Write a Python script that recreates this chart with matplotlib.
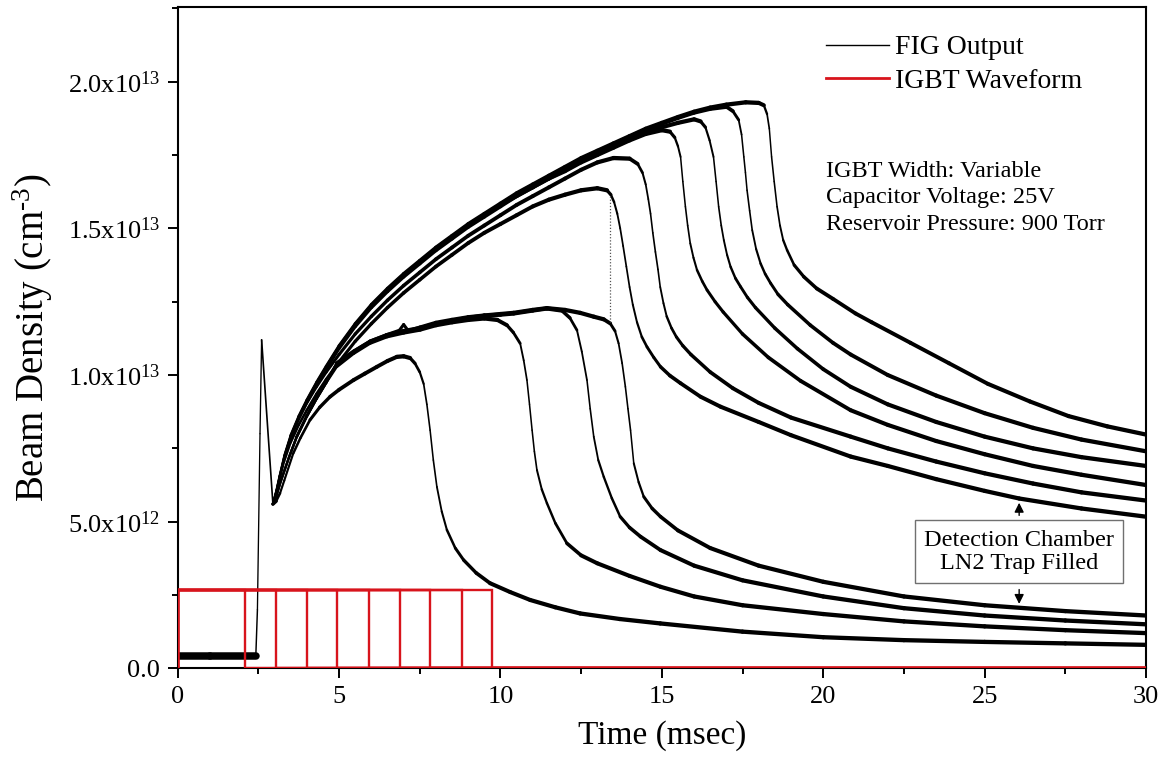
import numpy as np
import matplotlib
matplotlib.use("Agg")
import matplotlib.pyplot as plt
from matplotlib.collections import LineCollection
from matplotlib.lines import Line2D
from matplotlib.ticker import MultipleLocator, FuncFormatter

plt.rcParams["font.family"] = ["Liberation Serif", "DejaVu Serif"]
plt.rcParams["mathtext.fontset"] = "custom"
plt.rcParams["mathtext.rm"] = "Liberation Serif"
plt.rcParams["mathtext.it"] = "Liberation Serif:italic"
plt.rcParams["mathtext.default"] = "regular"

UNIT = 1e12  # densities below are in units of 1e12 cm^-3, times in msec

# ---- shared onset of every FIG trace (baseline, ignition spike, dip) ----
onset_t = [0.0, 1.0, 2.42, 2.47, 2.55, 2.60, 2.95]
onset_v = [0.42, 0.42, 0.42, 2.0, 8.0, 11.2, 5.6]

# ---- traces before the LN2 trap was filled ----
l1_t = [2.95, 3.05, 3.17, 3.30, 3.58, 3.80, 4.10, 4.40, 4.72, 5.00, 5.45, 5.80, 6.17,
        6.50, 6.79, 7.00, 7.20, 7.35, 7.50, 7.62, 7.72, 7.82, 7.92, 8.03, 8.18, 8.34,
        8.60, 8.86, 9.25, 9.68, 10.30, 10.92, 11.70, 12.47, 13.70, 14.95, 17.5, 20.0,
        22.5, 25.0, 27.5, 30.0]
l1_v = [5.6, 5.7, 5.97, 6.4, 7.33, 7.85, 8.47, 8.9, 9.26, 9.5, 9.83, 10.05, 10.28,
        10.48, 10.62, 10.64, 10.58, 10.4, 10.1, 9.7, 9.0, 8.12, 7.1, 6.19, 5.35, 4.72,
        4.1, 3.69, 3.25, 2.9, 2.6, 2.33, 2.08, 1.87, 1.68, 1.53, 1.25, 1.06,
        0.96, 0.90, 0.85, 0.80]

l2_t = [2.95, 3.05, 3.20, 3.45, 3.69, 4.00, 4.30, 4.60, 4.93, 5.45, 5.96, 6.48, 7.00,
        7.51, 8.00, 8.50, 9.00, 9.50, 9.90, 10.20, 10.40, 10.61, 10.72, 10.82, 10.90,
        10.98, 11.05, 11.13, 11.28, 11.44, 11.70, 12.06, 12.50, 13.00, 14.00, 14.96,
        16.0, 17.5, 20.0, 22.5, 25.0, 27.5, 30.0]
l2_v = [5.6, 5.85, 6.4, 7.2, 7.9, 8.6, 9.2, 9.75, 10.3, 10.75, 11.1, 11.32, 11.45,
        11.55, 11.7, 11.8, 11.88, 11.93, 11.88, 11.7, 11.45, 11.08, 10.5, 9.83, 9.0,
        8.12, 7.4, 6.76, 6.1, 5.63, 4.95, 4.26, 3.85, 3.58, 3.15, 2.78,
        2.45, 2.15, 1.85, 1.6, 1.43, 1.3, 1.2]

l3_t = [2.95, 3.05, 3.20, 3.45, 3.69, 4.00, 4.30, 4.60, 4.93, 5.45, 5.96, 6.48, 7.00,
        7.51, 8.00, 8.50, 9.00, 9.50, 10.00, 10.41, 11.00, 11.44, 11.90, 12.15, 12.37,
        12.52, 12.68, 12.78, 12.89, 13.03, 13.20, 13.45, 13.71, 14.00, 14.34, 14.96,
        16.0, 17.5, 20.0, 22.5, 25.0, 27.5, 30.0]
l3_v = [5.6, 5.85, 6.4, 7.2, 7.9, 8.6, 9.2, 9.75, 10.4, 10.8, 11.14, 11.36, 11.5,
        11.6, 11.75, 11.85, 11.95, 12.02, 12.06, 12.1, 12.2, 12.27, 12.2, 11.95, 11.53,
        10.8, 9.83, 8.85, 7.9, 7.1, 6.53, 5.8, 5.17, 4.8, 4.49, 4.03,
        3.5, 3.0, 2.45, 2.05, 1.8, 1.63, 1.5]

l4_t = [2.95, 3.05, 3.20, 3.45, 3.69, 4.00, 4.30, 4.60, 4.93, 5.45, 5.96, 6.48, 6.85,
        7.00, 7.15, 7.51, 8.00, 8.50, 9.00, 9.50, 10.00, 10.41, 11.00, 11.44, 12.00,
        12.47, 12.89, 13.20, 13.40, 13.55, 13.66, 13.77, 13.87, 13.95, 14.03, 14.13,
        14.28, 14.44, 14.70, 14.96, 15.5, 16.5, 18.0, 20.0, 22.5, 25.0, 27.5, 30.0]
l4_v = [5.6, 5.85, 6.4, 7.2, 7.9, 8.6, 9.2, 9.75, 10.4, 10.8, 11.14, 11.36, 11.5,
        11.72, 11.5, 11.62, 11.78, 11.88, 11.97, 12.03, 12.08, 12.12, 12.22, 12.28, 12.22,
        12.12, 11.99, 11.9, 11.76, 11.5, 11.08, 10.4, 9.6, 8.85, 8.12, 6.99,
        6.35, 5.85, 5.45, 5.17, 4.7, 4.1, 3.5, 2.95, 2.45, 2.15, 1.95, 1.8]

# ---- traces after the LN2 trap was filled ----
u1_t = [2.95, 3.05, 3.15, 3.30, 3.50, 3.75, 4.00, 4.30, 4.60, 5.00, 5.50, 6.00, 6.50,
        7.00, 7.50, 8.00, 8.50, 9.00, 9.50, 10.00, 10.50, 11.00, 11.50, 12.00, 12.50,
        13.00, 13.30, 13.42, 13.52, 13.62, 13.71, 13.80, 13.90, 14.00, 14.10, 14.23,
        14.38, 14.54, 14.75, 14.96, 15.25, 15.58, 16.20, 16.82, 18.0, 19.0, 20.85,
        22.0, 23.5, 25.0, 26.07, 28.0, 30.0]
u1_v = [5.6, 5.95, 6.4, 7.05, 7.7, 8.3, 8.8, 9.35, 9.85, 10.45, 11.15, 11.75, 12.3,
        12.8, 13.25, 13.7, 14.1, 14.5, 14.85, 15.15, 15.45, 15.75, 15.98, 16.15, 16.3,
        16.37, 16.3, 16.15, 15.9, 15.5, 15.0, 14.4, 13.7, 13.0, 12.4, 11.8,
        11.3, 10.96, 10.6, 10.28, 9.98, 9.72, 9.26, 8.92, 8.4, 7.95, 7.22,
        6.9, 6.45, 6.05, 5.79, 5.45, 5.17]

u2_t = [2.95, 3.05, 3.15, 3.30, 3.50, 3.75, 4.00, 4.30, 4.60, 5.00, 5.50, 6.00, 6.50,
        7.00, 7.50, 8.00, 8.50, 9.00, 9.50, 10.00, 10.50, 11.00, 11.50, 12.00, 12.50,
        13.00, 13.50, 14.00, 14.25, 14.40, 14.50, 14.58, 14.65, 14.72, 14.80, 14.88,
        14.95, 15.05, 15.15, 15.30, 15.45, 15.65, 15.90, 16.50, 17.20, 18.0, 19.0,
        20.85, 22.0, 23.5, 25.0, 26.5, 28.0, 30.0]
u2_v = [5.6, 6.0, 6.5, 7.2, 7.85, 8.5, 9.05, 9.6, 10.1, 10.7, 11.4, 12.0, 12.55,
        13.05, 13.5, 13.95, 14.35, 14.75, 15.1, 15.45, 15.8, 16.1, 16.4, 16.7, 17.0,
        17.25, 17.4, 17.38, 17.2, 16.9, 16.5, 16.0, 15.5, 14.85, 14.2, 13.6,
        13.0, 12.45, 12.0, 11.6, 11.3, 11.0, 10.7, 10.1, 9.55, 9.05, 8.55,
        7.9, 7.5, 7.05, 6.65, 6.3, 6.0, 5.72]

u3_t = [2.95, 3.05, 3.15, 3.30, 3.50, 3.75, 4.00, 4.30, 4.60, 5.00, 5.50, 6.00, 6.50,
        7.00, 7.50, 8.00, 8.50, 9.00, 9.50, 10.00, 10.50, 11.00, 11.50, 12.00, 12.50,
        13.00, 13.50, 14.00, 14.50, 15.00, 15.25, 15.40, 15.50, 15.58, 15.65, 15.73,
        15.80, 15.88, 15.98, 16.09, 16.25, 16.40, 16.65, 16.90, 17.50, 18.30, 19.30,
        20.85, 22.0, 23.5, 25.0, 26.5, 28.0, 30.0]
u3_v = [5.6, 6.0, 6.5, 7.2, 7.9, 8.55, 9.1, 9.7, 10.25, 10.95, 11.7, 12.35, 12.9,
        13.4, 13.85, 14.3, 14.7, 15.1, 15.45, 15.8, 16.1, 16.4, 16.7, 16.95, 17.25,
        17.5, 17.75, 18.0, 18.22, 18.35, 18.3, 18.1, 17.8, 17.44, 16.6, 15.74,
        15.1, 14.49, 14.0, 13.58, 13.2, 12.9, 12.5, 12.15, 11.4, 10.6, 9.8,
        8.8, 8.3, 7.75, 7.3, 6.9, 6.6, 6.25]

u4_t = [2.95, 3.05, 3.15, 3.30, 3.50, 3.75, 4.00, 4.30, 4.60, 5.00, 5.50, 6.00, 6.50,
        7.00, 7.50, 8.00, 8.50, 9.00, 9.50, 10.00, 10.50, 11.00, 11.50, 12.00, 12.50,
        13.00, 13.50, 14.00, 14.50, 15.00, 15.50, 16.00, 16.20, 16.35, 16.48, 16.60,
        16.68, 16.76, 16.84, 16.92, 17.02, 17.13, 17.28, 17.44, 17.65, 17.90, 18.50,
        19.20, 20.00, 20.85, 22.0, 23.5, 25.0, 26.5, 28.0, 30.0]
u4_v = [5.6, 6.0, 6.45, 7.15, 7.85, 8.5, 9.05, 9.65, 10.2, 10.9, 11.65, 12.3, 12.85,
        13.35, 13.8, 14.25, 14.65, 15.05, 15.4, 15.75, 16.1, 16.4, 16.7, 17.0, 17.3,
        17.55, 17.8, 18.05, 18.25, 18.45, 18.6, 18.72, 18.65, 18.45, 18.0, 17.44,
        16.6, 15.74, 15.1, 14.6, 14.1, 13.69, 13.3, 13.01, 12.65, 12.3, 11.6,
        10.9, 10.2, 9.6, 9.0, 8.4, 7.9, 7.5, 7.2, 6.9]

u5_t = [2.95, 3.05, 3.15, 3.30, 3.50, 3.75, 4.00, 4.30, 4.60, 5.00, 5.50, 6.00, 6.50,
        7.00, 7.50, 8.00, 8.50, 9.00, 9.50, 10.00, 10.50, 11.00, 11.50, 12.00, 12.50,
        13.00, 13.50, 14.00, 14.50, 15.00, 15.50, 16.00, 16.50, 17.00, 17.20, 17.38,
        17.47, 17.54, 17.59, 17.64, 17.72, 17.80, 17.92, 18.06, 18.20, 18.37, 18.60,
        18.90, 19.60, 20.30, 20.85, 22.0, 23.5, 25.0, 26.5, 28.0, 30.0]
u5_v = [5.6, 6.02, 6.52, 7.22, 7.92, 8.57, 9.12, 9.72, 10.27, 10.97, 11.72, 12.37, 12.92,
        13.42, 13.87, 14.32, 14.72, 15.12, 15.47, 15.82, 16.17, 16.47, 16.77, 17.07, 17.37,
        17.62, 17.87, 18.12, 18.37, 18.57, 18.77, 18.95, 19.08, 19.15, 19.0, 18.7,
        18.2, 17.44, 16.9, 16.3, 15.6, 14.94, 14.3, 13.8, 13.45, 13.13, 12.75,
        12.4, 11.7, 11.1, 10.7, 10.0, 9.3, 8.7, 8.2, 7.8, 7.4]

u6_t = [2.95, 3.05, 3.15, 3.30, 3.50, 3.75, 4.00, 4.30, 4.60, 5.00, 5.50, 6.00, 6.50,
        7.00, 7.50, 8.00, 8.50, 9.00, 9.50, 10.00, 10.50, 11.00, 11.50, 12.00, 12.50,
        13.00, 13.50, 14.00, 14.50, 15.00, 15.50, 16.00, 16.50, 17.00, 17.60, 18.00,
        18.16, 18.26, 18.33, 18.40, 18.48, 18.57, 18.66, 18.76, 18.88, 19.10, 19.40,
        19.80, 20.30, 21.00, 21.50, 22.70, 23.90, 25.10, 26.40, 27.60, 28.80, 30.0]
u6_v = [5.6, 6.05, 6.55, 7.25, 7.95, 8.6, 9.15, 9.75, 10.3, 11.0, 11.75, 12.4, 12.95,
        13.45, 13.9, 14.35, 14.75, 15.15, 15.5, 15.85, 16.2, 16.5, 16.8, 17.1, 17.4,
        17.65, 17.9, 18.15, 18.4, 18.6, 18.8, 18.98, 19.12, 19.22, 19.3, 19.28,
        19.2, 18.9, 18.4, 17.44, 16.6, 15.74, 15.1, 14.6, 14.26, 13.75, 13.35,
        12.95, 12.6, 12.1, 11.8, 11.1, 10.4, 9.7, 9.1, 8.6, 8.25, 7.97]

fig_traces = [(l1_t, l1_v), (l2_t, l2_v), (l3_t, l3_v), (l4_t, l4_v),
              (u1_t, u1_v), (u2_t, u2_v), (u3_t, u3_v), (u4_t, u4_v),
              (u5_t, u5_v), (u6_t, u6_v)]

# gap in the first post-fill trace, bridged with a dotted segment
gap_t = [13.4, 13.4]
gap_v = [16.1, 11.8]

# ---- IGBT gate pulses (msec) and their plotted level ----
igbt_widths = [2.09, 3.04, 4.00, 4.94, 5.92, 6.88, 7.81, 8.80, 9.75]
igbt_level = 2.67

# arrow targets of the LN2 note
note_t = 26.07
note_up_v = 5.74
note_down_v = 2.10

# ------------------------------------------------------------------
W, H = 1174, 757
fig = plt.figure(figsize=(W / 100, H / 100), dpi=100)
ax = fig.add_axes([177.7 / W, 1 - 668.3 / H, (1146 - 177.7) / W, (668.3 - 7) / H])
ax.set_xlim(0, 30)
ax.set_ylim(0, 2.255e13)


def noisy_trace(t, v, base=0.9, extra=2.2, zorder=3):
    """Draw a trace whose apparent thickness follows the local slope."""
    xy = np.column_stack([np.asarray(t, float), np.asarray(v, float) * UNIT])
    pts = ax.transData.transform(xy)
    d = np.diff(pts, axis=0)
    cos = np.abs(d[:, 0]) / np.maximum(np.hypot(d[:, 0], d[:, 1]), 1e-9)
    widths = base + extra * cos
    segs = np.stack([xy[:-1], xy[1:]], axis=1)
    lc = LineCollection(segs, linewidths=widths, colors="black",
                        capstyle="round", joinstyle="round", zorder=zorder)
    ax.add_collection(lc)


noisy_trace(onset_t, onset_v, base=0.9, extra=4.5)
for tt, vv in fig_traces:
    noisy_trace(tt, vv)

ax.plot(gap_t, np.array(gap_v) * UNIT, color="#555555", lw=0.9, ls=(0, (1, 1.5)), zorder=3)

red = "#d8141c"
for w in igbt_widths:
    ax.plot([0, 0, w, w, 30], np.array([0, igbt_level, igbt_level, 0, 0]) * UNIT,
            color=red, lw=1.7, zorder=4, solid_joinstyle="miter")

# axes styling
for sp in ax.spines.values():
    sp.set_linewidth(1.5)
ax.xaxis.set_major_locator(MultipleLocator(5))
ax.xaxis.set_minor_locator(MultipleLocator(2.5))
ax.yaxis.set_major_locator(MultipleLocator(5e12))
ax.yaxis.set_minor_locator(MultipleLocator(2.5e12))
ax.tick_params(which="both", direction="out", top=False, right=False, width=1.4,
               labelsize=19)
ax.tick_params(which="major", length=7.5, pad=5)
ax.tick_params(which="minor", length=4.5)


def sci_label(val, pos):
    if abs(val) < 1.0:
        return "0.0"
    if val < 0:
        return ""
    exp = int(np.floor(np.log10(val) + 1e-9))
    mant = val / 10 ** exp
    return r"$%.1f\mathrm{x}10^{%d}$" % (mant, exp)


ax.yaxis.set_major_formatter(FuncFormatter(sci_label))
ax.xaxis.set_major_formatter(FuncFormatter(lambda v, p: "%d" % round(v)))

ax.set_xlabel("Time (msec)", fontsize=24)
ax.set_ylabel(r"Beam Density (cm$^{\text{-}3}$)", fontsize=28)
ax.xaxis.set_label_coords(0.5, -0.078)
ax.yaxis.set_label_coords(-0.127, 0.5)

# legend
handles = [Line2D([], [], color="black", lw=1.0), Line2D([], [], color=red, lw=2.0)]
ax.legend(handles, ["FIG Output", "IGBT Waveform"], loc="upper left",
          bbox_to_anchor=(826 / W, 1 - 35 / H), bbox_transform=fig.transFigure,
          frameon=False, fontsize=20, handlelength=2.25, handletextpad=0.25,
          labelspacing=0.3, borderpad=0, borderaxespad=0)

# run conditions
fig.text(826 / W, 1 - 198 / H,
         "IGBT Width: Variable\nCapacitor Voltage: 25V\nReservoir Pressure: 900 Torr",
         fontsize=17.5, va="center", ha="left", linespacing=1.33)

# LN2 note with arrows to both trace families
ax.text(note_t, 3.97e12, "Detection Chamber\nLN2 Trap Filled", fontsize=17.5,
        ha="center", va="center", linespacing=1.15, zorder=6,
        bbox=dict(boxstyle="square,pad=0.38", fc="white", ec="#707070", lw=1.0))
ax.annotate("", xy=(note_t, note_up_v * UNIT), xytext=(note_t, 5.12e12),
            arrowprops=dict(arrowstyle="-|>", color="black", lw=1.0, mutation_scale=14),
            zorder=6)
ax.annotate("", xy=(note_t, note_down_v * UNIT), xytext=(note_t, 2.78e12),
            arrowprops=dict(arrowstyle="-|>", color="black", lw=1.0, mutation_scale=14),
            zorder=6)

fig.savefig("out.png", dpi=100)
